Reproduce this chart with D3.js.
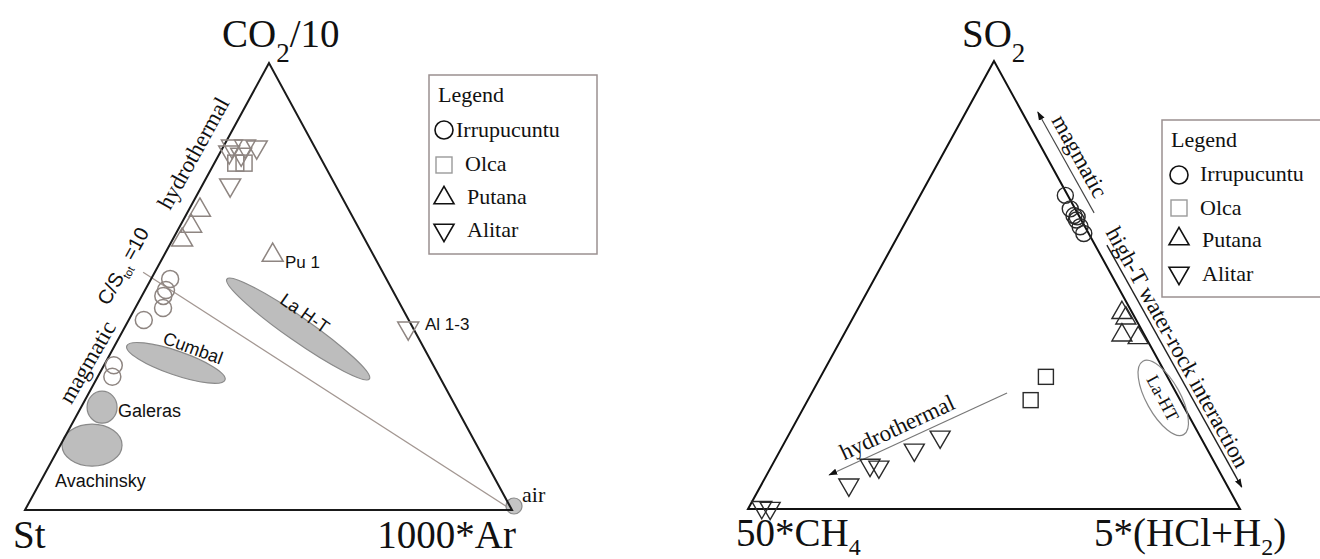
<!DOCTYPE html>
<html><head><meta charset="utf-8">
<script src="https://cdn.jsdelivr.net/npm/d3@7"></script>
<style>body{margin:0;background:#fff;} svg{display:block;}</style>
</head><body><svg id="c" width="1320" height="559"></svg>
<script>
// ---------- DATA (ternary compositions, %) ----------
// Left diagram: [CO2/10, St, 1000*Ar]
const leftAxes = ["CO2/10", "St", "1000*Ar"];
const irrupucuntuL = [[51.7,44.4,3.9],[49.2,46.5,4.3],[47.9,47.7,4.4],[45.2,49.1,5.7],[42.5,54.4,3.1],[32.4,65.6,2.0],[29.8,67.2,3.0]];
const olcaL = [[77.6,18.0,4.4],[77.6,16.3,6.1]];
const putanaL = [[67.1,30.6,2.3],[63.5,34.2,2.3],[60.4,37.6,2.0],[57.0,20.7,22.3]];
const alitarL = [[81.4,16.9,1.7],[81.4,14.2,4.4],[81.2,11.9,6.9],[80.1,18.1,1.8],[79.6,15.9,4.5],[72.7,21.6,5.7],[40.7,1.0,58.3]];
const regionNames = ["La H-T","Cumbal","Galeras","Avachinsky"];
const regionCentres = [[40.5,23.7,35.8],[32.9,52.6,14.5],[23.0,72.7,4.3],[14.5,79.0,6.5]];
const airPoint = [0,0,100];
const csLine = [[53.2,49.2,-2.4],[0,0,100]];
// Right diagram: [SO2, 50*CH4, 5*(HCl+H2)]
const rightAxes = ["SO2", "50*CH4", "5*(HCl+H2)"];
const irrupucuntuR = [[70.0,0.5,29.5],[67.0,1.0,32.0],[65.5,1.0,33.5],[64.5,1.0,34.5],[65.2,0.5,34.3],[63.0,1.0,36.0],[61.5,1.0,37.5]];
const olcaR = [[29.5,24.7,45.8],[24.3,30.4,45.3]];
const putanaR = [[43.8,2.1,54.1],[42.6,1.9,55.5],[38.8,4.6,56.6],[38.2,1.6,60.2]];
const alitarR = [[16.1,52.9,31.0],[13.2,59.6,27.2],[9.4,68.7,21.9],[9.8,70.3,19.9],[5.4,76.8,17.8],[0.4,97.0,2.6],[0.2,95.4,4.4]];
const laHTR = [24.8,3.2,72.0];
const arrowHydro = [[25.9,34.4,39.7],[7.6,79.7,12.7]];
const arrowMagm = [[66.1,-3.4,37.3],[88.6,-3.2,14.6]];
const arrowHighT = [[58.9,-2.4,43.5],[4.9,-2.8,97.9]];
const legendItems = ["Irrupucuntu","Olca","Putana","Alitar"];

// ---------- HELPERS ----------
const svg = d3.select("#c");
const SERIF = "'Liberation Serif','Times New Roman',serif";
const SANS = "'Liberation Sans',Arial,sans-serif";
const AX = 39; // axis label font size

function ternary(BL, BR, T) {
  const xr = d3.scaleLinear().domain([0,100]).range([0, BR[0]-BL[0]]);
  const xt = d3.scaleLinear().domain([0,100]).range([0, T[0]-BL[0]]);
  const yt = d3.scaleLinear().domain([0,100]).range([BL[1], T[1]]);
  return d => {
    const s = d[0]+d[1]+d[2];
    const t = d[0]*100/s, r = d[2]*100/s;
    return [BL[0] + xr(r) + xt(t), yt(t)];
  };
}
function triPath(s, up) {
  const h = s*Math.sqrt(3)/2;
  if (up) return `M0,${-2*h/3}L${s/2},${h/3}L${-s/2},${h/3}Z`;
  return `M0,${2*h/3}L${s/2},${-h/3}L${-s/2},${-h/3}Z`;
}
const defs = svg.append("defs");
defs.append("marker").attr("id","ah").attr("viewBox","0 0 10 10").attr("refX",9).attr("refY",5)
  .attr("markerWidth",9).attr("markerHeight",9).attr("markerUnits","userSpaceOnUse").attr("orient","auto")
  .append("path").attr("d","M0,1.5L10,5L0,8.5Z").attr("fill","#111");

function drawFrame(P, stroke) {
  const v = [[100,0,0],[0,100,0],[0,0,100]].map(P);
  svg.append("path").attr("d", d3.line()(v)+"Z").attr("fill","none").attr("stroke",stroke).attr("stroke-width",2).attr("stroke-linejoin","miter");
}
function pts(P, data, kind, size, stroke, sw) {
  const g = svg.append("g");
  data.forEach(d => {
    const [x,y] = P(d);
    if (kind === "circle") g.append("circle").attr("cx",x).attr("cy",y).attr("r",size).attr("fill","none").attr("stroke",stroke).attr("stroke-width",sw);
    else if (kind === "square") g.append("rect").attr("x",x-size/2).attr("y",y-size/2).attr("width",size).attr("height",size).attr("fill","none").attr("stroke",stroke).attr("stroke-width",sw);
    else g.append("path").attr("transform",`translate(${x},${y})`).attr("d",triPath(size, kind==="up")).attr("fill","none").attr("stroke",stroke).attr("stroke-width",sw);
  });
}
function rotText(x, y, ang, txt, font, size, fill) {
  return svg.append("text").attr("transform",`translate(${x},${y}) rotate(${ang})`)
    .attr("text-anchor","middle").attr("dy","0.35em").attr("font-family",font).attr("font-size",size).attr("fill",fill||"#111").text(txt);
}
function plainText(x, y, txt, font, size, anchor, fill) {
  return svg.append("text").attr("x",x).attr("y",y).attr("text-anchor",anchor||"start")
    .attr("font-family",font).attr("font-size",size).attr("fill",fill||"#111").text(txt);
}

// ---------- LEFT DIAGRAM ----------
const PL = ternary([25,510],[512,510],[269,63]);
const gL = "#8e8581";
svg.append("path").attr("d", d3.line()(csLine.map(PL))).attr("stroke","#a39792").attr("stroke-width",1.3).attr("fill","none");
const regionShape = [[87,12,35],[52,12,19],[15,16,0],[30,21,0]];
regionCentres.forEach((c,i) => {
  const [x,y] = PL(c); const [rx,ry,a] = regionShape[i];
  svg.append("ellipse").attr("transform",`translate(${x},${y}) rotate(${a})`).attr("rx",rx).attr("ry",ry)
    .attr("fill","#bdbdbd").attr("stroke","#8a8a8a").attr("stroke-width",1.2);
});
{ const [x,y] = PL(airPoint); svg.append("circle").attr("cx",x+2).attr("cy",y-4).attr("r",8).attr("fill","#c4c4c4").attr("stroke","#8a8a8a").attr("stroke-width",1.2); }
drawFrame(PL, "#1a1a1a");
pts(PL, irrupucuntuL, "circle", 8.5, gL, 1.5);
pts(PL, alitarL, "down", 21, gL, 1.5);
pts(PL, olcaL, "square", 16, gL, 1.5);
pts(PL, putanaL, "up", 21, gL, 1.5);

{ const t = svg.append("text").attr("x",222).attr("y",47).attr("font-family",SERIF).attr("font-size",AX).attr("fill","#111");
  t.append("tspan").text("CO"); t.append("tspan").attr("font-size",27).attr("dy",15).text("2"); t.append("tspan").attr("dy",-15).text("/10"); }
plainText(13,548,"St",SERIF,AX);
plainText(516,548,"1000*Ar",SERIF,AX,"end");
rotText(193,153,-61,"hydrothermal",SERIF,23);
rotText(87,362,-60,"magmatic",SERIF,23);
{ const t = svg.append("text").attr("transform","translate(123,266) rotate(-61)").attr("text-anchor","middle").attr("dy","0.35em")
    .attr("font-family",SANS).attr("font-size",20).attr("fill","#111");
  t.append("tspan").text("C/S"); t.append("tspan").attr("font-size",11).attr("dy",5).text("tot"); t.append("tspan").attr("dy",-5).text(" =10"); }
rotText(193,348,20,regionNames[1],SANS,18);
rotText(305,313,35,regionNames[0],SANS,18);
plainText(118,417,regionNames[2],SANS,18);
plainText(55,487,regionNames[3],SANS,18);
plainText(285,268,"Pu 1",SANS,17);
plainText(425,330,"Al 1-3",SANS,17);
plainText(522,502,"air",SERIF,22);

function legend(x0, y0, w, h, opts) {
  svg.append("rect").attr("x",x0).attr("y",y0).attr("width",w).attr("height",h).attr("fill","#fff").attr("stroke","#9a9090").attr("stroke-width",1.5);
  plainText(opts.titleX, opts.titleY, "Legend", SERIF, 22);
  const kinds = ["circle","square","up","down"];
  legendItems.forEach((name,i) => {
    const cx = opts.symX, cy = opts.symY[i];
    if (kinds[i]==="circle") svg.append("circle").attr("cx",cx).attr("cy",cy).attr("r",9).attr("fill","none").attr("stroke","#111").attr("stroke-width",1.6);
    else if (kinds[i]==="square") svg.append("rect").attr("x",cx-8).attr("y",cy-8).attr("width",16).attr("height",16).attr("fill","none").attr("stroke","#9a9a9a").attr("stroke-width",1.4);
    else svg.append("path").attr("transform",`translate(${cx},${cy})`).attr("d",triPath(20,kinds[i]==="up")).attr("fill","none").attr("stroke","#111").attr("stroke-width",1.6);
    plainText(opts.textX[i], opts.textY[i], name, SERIF, 22);
  });
}
legend(429,75,168,179,{titleX:438,titleY:102,symX:444,symY:[130,165,198,230],textX:[456,465,467,467],textY:[137,171,204,237]});

// ---------- RIGHT DIAGRAM ----------
const PR = ternary([748,509],[1240,509],[994,61]);
drawFrame(PR, "#111");
svg.append("path").attr("d", d3.line()(arrowHydro.map(PR))).attr("stroke","#777").attr("stroke-width",1.2).attr("fill","none").attr("marker-end","url(#ah)");
svg.append("path").attr("d", d3.line()(arrowMagm.map(PR))).attr("stroke","#444").attr("stroke-width",1.1).attr("fill","none").attr("marker-end","url(#ah)");
svg.append("path").attr("d", d3.line()(arrowHighT.map(PR))).attr("stroke","#222").attr("stroke-width",1.4).attr("fill","none").attr("marker-end","url(#ah)");
{ const [x,y] = PR(laHTR); svg.append("ellipse").attr("transform",`translate(${x},${y}) rotate(61)`).attr("rx",42).attr("ry",17).attr("fill","none").attr("stroke","#888").attr("stroke-width",1.2); }
const dR = "#2a2a2a";
pts(PR, irrupucuntuR, "circle", 8, dR, 1.4);
pts(PR, putanaR, "up", 20, dR, 1.4);
pts(PR, olcaR, "square", 15, dR, 1.4);
pts(PR, alitarR, "down", 20, dR, 1.4);

{ const t = svg.append("text").attr("x",962).attr("y",47).attr("font-family",SERIF).attr("font-size",AX).attr("fill","#111");
  t.append("tspan").text("SO"); t.append("tspan").attr("font-size",27).attr("dy",15).text("2"); }
{ const t = svg.append("text").attr("x",736).attr("y",546).attr("font-family",SERIF).attr("font-size",AX).attr("fill","#111");
  t.append("tspan").text("50*CH"); t.append("tspan").attr("font-size",24).attr("dy",9).text("4"); }
{ const t = svg.append("text").attr("x",1094).attr("y",546).attr("font-family",SERIF).attr("font-size",AX).attr("fill","#111");
  t.append("tspan").text("5*(HCl+H"); t.append("tspan").attr("font-size",24).attr("dy",9).text("2"); t.append("tspan").attr("dy",-9).text(")"); }
rotText(1080,156,61,"magmatic",SERIF,23);
rotText(1178,347,61,"high-T water-rock interaction",SERIF,23);
rotText(897,427,-25,"hydrothermal",SERIF,23);
rotText(1163,398,62,"La-HT",SERIF,18);

legend(1162,120,172,177,{titleX:1171,titleY:147,symX:1179,symY:[175,208,239,273],textX:[1200,1200,1202,1202],textY:[181,215,247,281]});
</script></body></html>
